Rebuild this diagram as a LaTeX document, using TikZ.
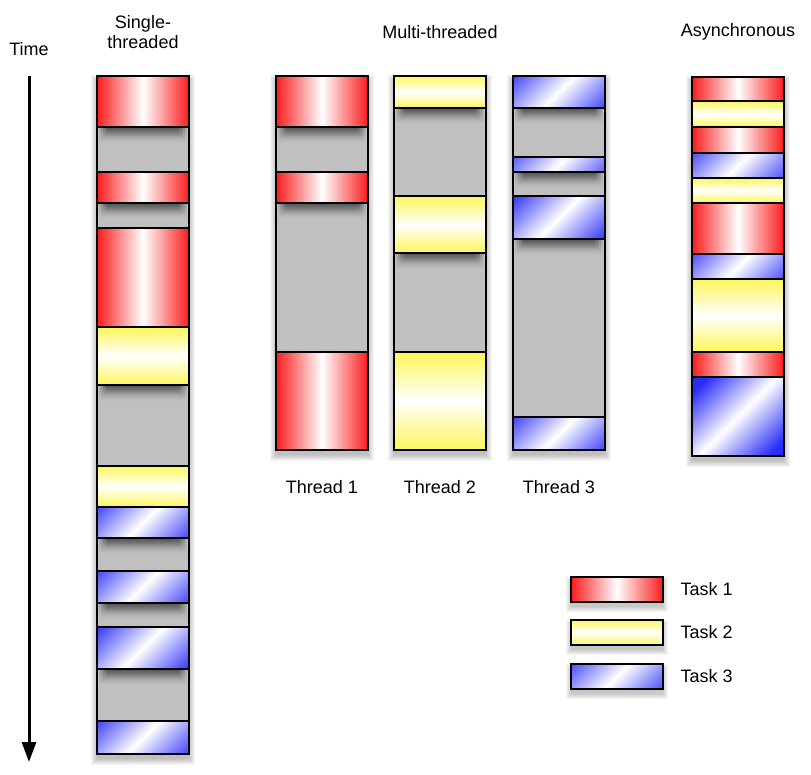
\documentclass[tikz,border=0pt]{standalone}
\usepackage{fontspec}
\setmainfont{Liberation Sans}
\usepackage{tikz}
\usetikzlibrary{arrows.meta,positioning,fadings}

\definecolor{taskred}{RGB}{250,28,28}
\definecolor{taskyellow}{RGB}{252,246,90}
\definecolor{taskblue}{RGB}{40,44,248}
\definecolor{idle}{RGB}{192,192,192}

% #1 left edge, #2 top, #3 bottom, #4 blocks top/bottom/task
\newcommand{\threadcol}[4]{%
  \foreach \k in {0,...,6}
    \fill[black, opacity=0.04] (#1-\k,#2+5-\k) rectangle (#1+92+\k,#3+5+\k);
  \fill[idle] (#1,#2) rectangle (#1+92,#3);
  \begin{scope}
    \clip (#1,#2) rectangle (#1+92,#3);
    \foreach \a/\b/\t in {#4}
      \foreach \k in {0,...,4}
        \fill[black, opacity=0.15, path fading=south] (#1+2+2*\k,\b) rectangle (#1+90-2*\k,\b+16-2*\k);
  \end{scope}
  \foreach \a/\b/\t in {#4}
    \draw[task\t] (#1,\a) rectangle (#1+92,\b);
  \draw[line width=1.2pt] (#1,#2) rectangle (#1+92,#3);
}

\begin{document}
\begin{tikzpicture}[x=1pt, y=-1pt,
    every node/.style={font=\fontsize{18}{20.5}\selectfont, align=center},
    task1/.style={draw, line width=1.2pt, left color=taskred, right color=taskred, middle color=white},
    task2/.style={draw, line width=1.2pt, top color=taskyellow, bottom color=taskyellow, middle color=white},
    task3/.style={draw, line width=1.2pt, fill=taskblue, path picture={
      \shade[top color=taskblue, bottom color=taskblue, middle color=white, shading angle=45]
        (path picture bounding box.center) ++(-50pt,-50pt) rectangle ++(100pt,100pt);}}]
    \useasboundingbox (0,0) rectangle (811,774);

    % titles
    \node (time) at (29,49) {Time};
    \node (single) at (143,32) {Single-\\threaded};
    \node (multi) at (440,32) {Multi-threaded};
    \node (async) at (738,32) {Asynchronous};

    \coordinate (tstart) at (29,76);
    \coordinate (tend) at (29,762);
    \draw[line width=3pt, -{Triangle[width=14pt,length=20pt]}] (tstart) -- (tend);

    \threadcol{97}{76}{754}{76/127/1, 172/203/1, 228/327/1, 327/385/2, 466/507/2,
      507/538/3, 571/603/3, 627/669/3, 721/754/3}
    \threadcol{276}{76}{450}{76/127/1, 172/203/1, 352/450/1}
    \threadcol{394}{76}{450}{76/108/2, 196/253/2, 352/450/2}
    \threadcol{513}{76}{450}{76/108/3, 157/172/3, 196/239/3, 417/450/3}
    \threadcol{692}{77}{456}{77/101/1, 101/127/2, 127/153/1, 153/178/3, 178/203/2,
      203/254/1, 254/279/3, 279/352/2, 352/377/1, 377/456/3}

    \node (thr1) at (322,487) {Thread 1};
    \node (thr2) at (440,487) {Thread 2};
    \node (thr3) at (559,487) {Thread 3};

    % key
    \foreach \t/\y in {1/577, 2/620, 3/664} {
      \foreach \k in {0,...,5}
        \fill[black, opacity=0.04] (571-\k,\y+5-\k) rectangle (663+\k,\y+30+\k);
      \draw[task\t] (571,\y) rectangle (663,\y+25);
      \node[anchor=west] (key\t) at (677,\y+12.5) {Task \t};
    }
\end{tikzpicture}
\end{document}
